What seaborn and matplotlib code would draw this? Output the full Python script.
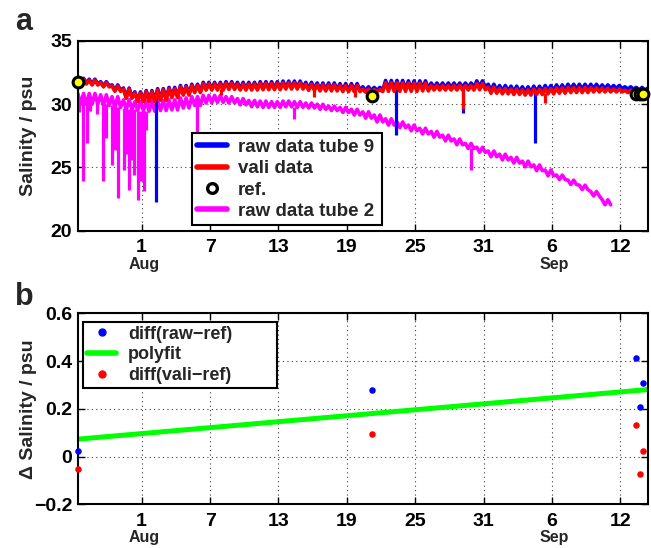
import numpy as np
import pandas as pd
import matplotlib
matplotlib.use("Agg")
import matplotlib.pyplot as plt
import matplotlib.transforms as mtransforms
from matplotlib.lines import Line2D
import seaborn as sns

# ---------------- data (time = days since 1 Aug) ----------------
day_start = np.arange(-5.6, 44.5, 1.0)          # one tidal day per entry
tide_offsets = [0.0, 0.25, 0.5, 0.75]           # high / low / high / low

raw9_high = [32.05, 31.98, 31.78, 31.53, 31.28, 30.98, 31.08, 31.23, 31.33, 31.48,
             31.58, 31.73, 31.73, 31.78, 31.73, 31.73, 31.78, 31.78, 31.83, 31.83,
             31.73, 31.68, 31.68, 31.63, 31.63, 31.38, 31.33, 31.88, 31.88, 31.85,
             31.85, 31.68, 31.68, 31.68, 31.68, 31.85, 31.58, 31.48, 31.43, 31.38,
             31.43, 31.48, 31.53, 31.58, 31.58, 31.58, 31.53, 31.48, 31.38, 31.33, 31.28]
raw9_low = [31.67, 31.60, 31.45, 31.10, 30.56, 30.32, 30.32, 30.42, 30.62, 30.82,
            31.02, 31.22, 31.22, 31.28, 31.23, 31.23, 31.26, 31.26, 31.31, 31.32,
            31.22, 31.17, 31.17, 31.12, 31.12, 31.08, 31.10, 31.20, 31.20, 31.20,
            31.25, 31.32, 31.32, 31.32, 31.33, 31.36, 31.10, 31.05, 31.00, 30.96,
            31.01, 31.07, 31.12, 31.18, 31.18, 31.23, 31.24, 31.24, 31.20, 31.10, 31.10]
vali_high = [31.98, 31.90, 31.70, 31.44, 31.19, 30.89, 30.98, 31.13, 31.22, 31.37,
             31.47, 31.61, 31.61, 31.66, 31.60, 31.60, 31.65, 31.65, 31.69, 31.69,
             31.58, 31.53, 31.53, 31.47, 31.47, 31.20, 31.15, 31.70, 31.70, 31.67,
             31.66, 31.48, 31.48, 31.48, 31.47, 31.63, 31.35, 31.25, 31.20, 31.14,
             31.19, 31.23, 31.28, 31.32, 31.32, 31.31, 31.26, 31.21, 31.10, 31.05, 31.00]
vali_low = [31.60, 31.52, 31.37, 31.02, 30.47, 30.22, 30.22, 30.32, 30.52, 30.72,
            30.92, 31.12, 31.12, 31.17, 31.12, 31.12, 31.15, 31.15, 31.20, 31.20,
            31.10, 31.05, 31.05, 31.00, 31.00, 30.95, 31.00, 31.02, 31.02, 31.02,
            31.05, 31.12, 31.12, 31.12, 31.12, 31.15, 30.87, 30.82, 30.77, 30.72,
            30.77, 30.82, 30.87, 30.92, 30.92, 30.97, 30.97, 30.97, 30.92, 30.82, 30.82]
tube2_high = [30.85, 30.85, 30.75, 30.60, 30.35, 30.20, 30.25, 30.30, 30.35, 30.50,
              30.60, 30.70, 30.70, 30.60, 30.45, 30.30, 30.25, 30.20, 30.25, 30.20,
              30.10, 30.00, 29.85, 29.75, 29.60, 29.40, 29.15, 28.85, 28.60, 28.35,
              28.10, 27.85, 27.55, 27.25, 26.90, 26.60, 26.30, 26.05, 25.80, 25.50,
              25.20, 24.80, 24.40, 24.00, 23.60, 23.10, 22.45]
tube2_low = [30.00, 30.00, 29.90, 29.75, 29.60, 29.50, 29.45, 29.50, 29.55, 29.70,
             29.90, 30.10, 30.15, 30.10, 29.95, 29.80, 29.75, 29.75, 29.80, 29.75,
             29.70, 29.60, 29.50, 29.35, 29.15, 28.90, 28.60, 28.35, 28.15, 27.90,
             27.65, 27.40, 27.10, 26.80, 26.50, 26.20, 25.85, 25.60, 25.35, 25.05,
             24.75, 24.35, 24.05, 23.65, 23.25, 22.75, 22.05]

raw9_spike_day = [1.25, 22.30, 28.17, 34.49]
raw9_spike_top = [30.6, 31.3, 31.2, 31.1]
raw9_spike_bottom = [22.3, 27.6, 29.3, 26.9]
vali_spike_day = [6.95, 15.10, 18.70, 28.17, 35.36]
vali_spike_top = [31.2, 31.2, 31.1, 31.1, 30.9]
vali_spike_bottom = [30.7, 30.6, 30.6, 29.6, 30.1]
tube2_spike_day = [-5.47, -5.17, -4.82, -4.53, -3.92, -3.42, -3.13, -2.63, -2.34, -2.10,
                   -1.58, -1.38, -1.09, -0.85, -0.65, -0.35, -0.06, 0.18, 0.38, 4.88,
                   13.38, 28.87]
tube2_spike_top = [30.5, 30.5, 30.4, 30.3, 30.2, 30.1, 30.0, 29.9, 29.9, 29.8,
                   29.7, 29.7, 29.6, 29.6, 29.6, 29.5, 29.5, 29.5, 29.5, 30.2,
                   29.8, 26.5]
tube2_spike_bottom = [29.4, 23.9, 26.9, 29.5, 29.2, 23.9, 27.3, 25.2, 26.4, 22.6,
                      24.8, 26.1, 23.2, 25.6, 24.4, 22.4, 23.9, 23.1, 28.0, 27.8,
                      28.8, 24.8]

ref_day = [-5.61, 20.25, 43.40, 43.69, 43.98]
ref_salinity = [31.72, 30.68, 30.80, 30.80, 30.80]
diff_raw_ref = [0.025, 0.278, 0.412, 0.207, 0.309]
diff_vali_ref = [-0.051, 0.093, 0.132, -0.075, 0.025]
polyfit_day = [-5.61, 44.45]
polyfit_value = [0.073, 0.281]

xtick_pos = [0, 6, 12, 18, 24, 30, 36, 42]
xtick_labels = ["1", "7", "13", "19", "25", "31", "6", "12"]
month_pos = [0.2, 36.2]
month_labels = ["Aug", "Sep"]
ytick_a = [20, 25, 30, 35]
ytick_b = [-0.2, 0, 0.2, 0.4, 0.6]
ytick_b_labels = ["\u22120.2", "0", "0.2", "0.4", "0.6"]
xlim = (-5.61, 44.45)


def tidal(days, hi, lo):
    n = len(hi)
    t = (np.asarray(days)[:n, None] + np.asarray(tide_offsets)[None, :]).ravel()
    v = np.column_stack([hi, lo, hi, lo]).ravel()
    return pd.DataFrame({"day": t, "sal": v})


# ---------------- style ----------------
sns.set_style("ticks")
plt.rcParams["font.family"] = ["Liberation Sans", "DejaVu Sans"]
plt.rcParams["font.weight"] = "bold"
plt.rcParams["axes.labelweight"] = "bold"
plt.rcParams["axes.linewidth"] = 1.5
plt.rcParams["axes.edgecolor"] = "black"

fig = plt.figure(figsize=(6.51, 5.48), dpi=100)
ax1 = fig.add_axes([0.1194, 0.579, 0.8765, 0.3462])
ax2 = fig.add_axes([0.1194, 0.0797, 0.8765, 0.3485])

lw = 2.6
# tube 2 (magenta)
sns.lineplot(data=tidal(day_start, tube2_high, tube2_low), x="day", y="sal", ax=ax1,
             color="#ff00ff", lw=lw, estimator=None, sort=False)
ax1.vlines(tube2_spike_day, tube2_spike_bottom, tube2_spike_top, color="#ff00ff", lw=2.3)
# raw tube 9 (blue)
sns.lineplot(data=tidal(day_start, raw9_high, raw9_low), x="day", y="sal", ax=ax1,
             color="#0000ff", lw=lw, estimator=None, sort=False)
ax1.vlines(raw9_spike_day, raw9_spike_bottom, raw9_spike_top, color="#0000ff", lw=2.3)
# vali (red)
sns.lineplot(data=tidal(day_start, vali_high, vali_low), x="day", y="sal", ax=ax1,
             color="#ff0000", lw=lw, estimator=None, sort=False)
ax1.vlines(vali_spike_day, vali_spike_bottom, vali_spike_top, color="#ff0000", lw=2.3)
# reference samples
sns.scatterplot(x=ref_day, y=ref_salinity, ax=ax1, s=60, color="#ffff00",
                edgecolor="black", linewidth=2.2, zorder=5, clip_on=False)

# panel b
sns.lineplot(x=polyfit_day, y=polyfit_value, ax=ax2, color="#00ff00", lw=3.6)
sns.scatterplot(x=ref_day, y=diff_raw_ref, ax=ax2, color="#0000ff", s=22,
                linewidth=0, zorder=5, clip_on=False)
sns.scatterplot(x=ref_day, y=diff_vali_ref, ax=ax2, color="#ff0000", s=22,
                linewidth=0, zorder=5, clip_on=False)

for ax in (ax1, ax2):
    ax.set_xlim(*xlim)
    ax.set_xticks(xtick_pos)
    ax.set_xticklabels(xtick_labels)
    ax.tick_params(direction="in", top=True, right=True, length=5, width=1,
                   labelsize=14, colors="black")
    ax.tick_params(axis="x", pad=6)
    ax.tick_params(axis="y", pad=4)
    ax.grid(True, linestyle=(0, (1, 3)), color="0.25", lw=0.8)
    ax.set_axisbelow(True)
    for s in ax.spines.values():
        s.set_visible(True)
        s.set_linewidth(1.5)
    trans = mtransforms.blended_transform_factory(ax.transData, ax.transAxes)
    for mp, ml in zip(month_pos, month_labels):
        ax.text(mp, -0.18 if ax is ax1 else -0.176, ml, transform=trans, ha="center",
                va="center", fontsize=11.5, fontweight="bold")
    ax.set_xlabel("")

ax1.set_ylim(20, 35)
ax1.set_yticks(ytick_a)
ax1.set_ylabel("Salinity / psu", fontsize=14, fontweight="bold")
ax1.yaxis.set_label_coords(-0.071, 0.5)

ax2.set_ylim(-0.2, 0.6)
ax2.set_yticks(ytick_b)
ax2.set_yticklabels(ytick_b_labels)
ax2.set_ylabel("\u0394 Salinity / psu", fontsize=14, fontweight="bold")
ax2.yaxis.set_label_coords(-0.071, 0.5)

for ax in (ax1, ax2):
    for lab in ax.get_xticklabels() + ax.get_yticklabels():
        lab.set_fontweight("bold")

# legends
h1 = [Line2D([], [], color="#0000ff", lw=4),
      Line2D([], [], color="#ff0000", lw=4),
      Line2D([], [], ls="none", marker="o", mfc="white", mec="black", ms=7, mew=2.4),
      Line2D([], [], color="#ff00ff", lw=4)]
leg1 = ax1.legend(h1, ["raw data tube 9", "vali data", "ref.", "raw data tube 2"],
                  loc="upper left", bbox_to_anchor=(0.1998, 0.0474, 0.333, 0.466),
                  mode="expand",
                  prop={"weight": "bold", "size": 13.5}, frameon=True, fancybox=False,
                  edgecolor="black", framealpha=1, borderpad=0.3, labelspacing=0.22,
                  handlelength=1.6, handletextpad=0.55, borderaxespad=0)
leg1.get_frame().set_linewidth(1.5)

h2 = [Line2D([], [], ls="none", marker="o", color="#0000ff", ms=5),
      Line2D([], [], color="#00ff00", lw=4),
      Line2D([], [], ls="none", marker="o", color="#ff0000", ms=5)]
leg2 = ax2.legend(h2, ["diff(raw\u2212ref)", "polyfit", "diff(vali\u2212ref)"],
                  loc="upper left", bbox_to_anchor=(0.0098, 0.6, 0.339, 0.356),
                  mode="expand",
                  prop={"weight": "bold", "size": 13}, frameon=True, fancybox=False,
                  edgecolor="black", framealpha=1, borderpad=0.22, labelspacing=0.2,
                  handlelength=1.6, handletextpad=0.65, borderaxespad=0)
leg2.get_frame().set_linewidth(1.5)

fig.text(0.023, 1 - 30 / 548, "a", fontsize=22, fontweight="bold", va="baseline")
fig.text(0.023, 1 - 305 / 548, "b", fontsize=22, fontweight="bold", va="baseline")

fig.savefig("out.png", dpi=100)
